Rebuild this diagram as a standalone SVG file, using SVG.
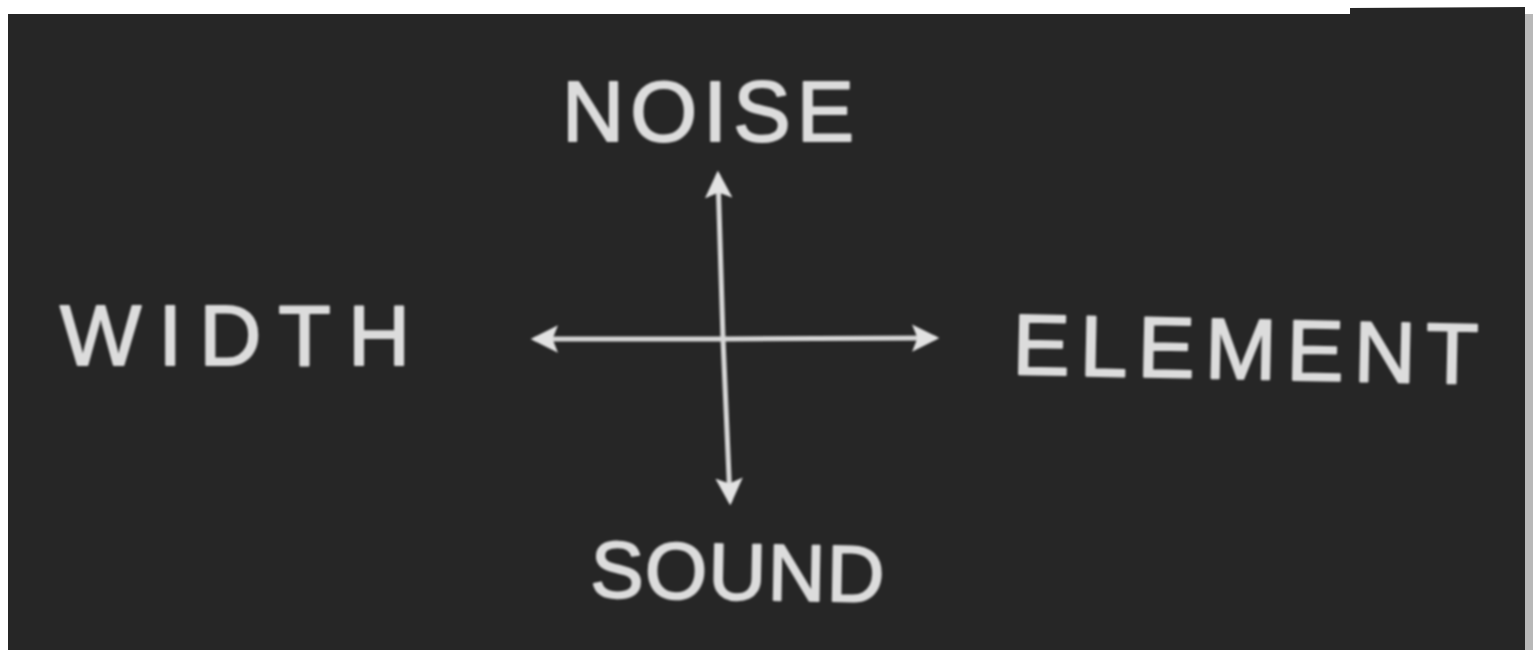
<svg xmlns="http://www.w3.org/2000/svg" width="1533" height="650" viewBox="0 0 1533 650">
<style>
.lbl{font-family:"Liberation Sans",Arial,sans-serif;font-size:86px;fill:#dcdcdc;stroke:#dcdcdc;stroke-width:2;stroke-linejoin:round;}
.ax{stroke:#d6d6d6;stroke-width:5;fill:none;stroke-linecap:round;}
</style>
<defs>
<marker id="ah" viewBox="0 0 10 10" refX="8" refY="5" markerWidth="5.5" markerHeight="5.5" orient="auto-start-reverse" markerUnits="strokeWidth">
<path d="M0,0 L10,5 L0,10 L2,5 Z" fill="#e2e2e2"/>
</marker>
<filter id="soft" x="-5%" y="-5%" width="110%" height="110%"><feGaussianBlur stdDeviation="1.3"/></filter>
</defs>
<rect x="0" y="0" width="1533" height="650" fill="#ffffff"/>
<rect x="8" y="14" width="1517" height="636" fill="#262626"/>
<polygon points="1350,8 1525,7 1525,14 1350,14" fill="#262626"/>
<rect x="1525" y="14" width="8" height="636" fill="#b8b8b8"/>
<g id="connectors" filter="url(#soft)">
<line class="ax" x1="723" y1="339" x2="718" y2="176" marker-end="url(#ah)"/>
<line class="ax" x1="723" y1="339" x2="730" y2="500" marker-end="url(#ah)"/>
<line class="ax" x1="723" y1="339" x2="536" y2="339" marker-end="url(#ah)"/>
<line class="ax" x1="723" y1="339" x2="934" y2="338" marker-end="url(#ah)"/>
</g>
<g id="noise" filter="url(#soft)"><text class="lbl" x="562" y="141" textLength="292" lengthAdjust="spacing">NOISE</text></g>
<g id="width" filter="url(#soft)"><text class="lbl" x="60" y="365" textLength="350" lengthAdjust="spacing">WIDTH</text></g>
<g id="element" filter="url(#soft)"><text class="lbl" x="1012" y="374" textLength="466" lengthAdjust="spacing" transform="rotate(1.2 1012 374)">ELEMENT</text></g>
<g id="sound" filter="url(#soft)"><text class="lbl" x="590" y="597" style="font-size:80px" textLength="294" lengthAdjust="spacing" transform="rotate(1 590 597)">SOUND</text></g>
</svg>
